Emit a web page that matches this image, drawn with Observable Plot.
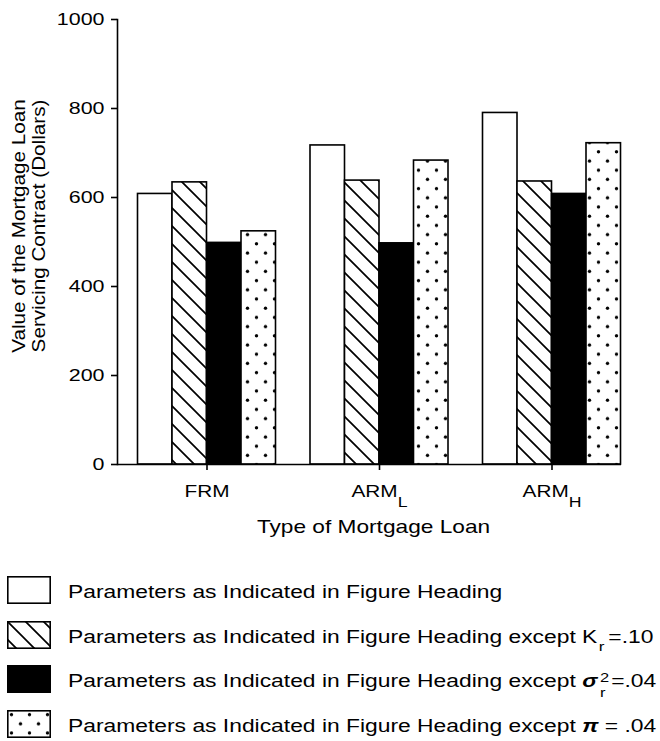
<!DOCTYPE html>
<html><head><meta charset="utf-8">
<script src="https://cdn.jsdelivr.net/npm/d3@7"></script>
<script src="https://cdn.jsdelivr.net/npm/@observablehq/plot@0.6"></script>
<style>
html,body{margin:0;padding:0;background:#fff;width:660px;height:741px;overflow:hidden;}
#wrap{position:relative;width:660px;height:741px;overflow:hidden;font-family:"Liberation Sans",Arial,Helvetica,sans-serif;color:#000;}
#wrap svg.chart{position:absolute;left:0;top:0;}
.lbox{position:absolute;left:7px;}
.ltext{position:absolute;left:68px;font-size:17.5px;line-height:20px;white-space:nowrap;transform:scaleX(1.305);transform-origin:0 0;}
.sub{font-size:0.75em;position:relative;top:8px;margin-left:1px;margin-right:3px;}
.sup2{font-size:0.72em;position:relative;top:-5px;margin-left:2px;}
.sub2{font-size:0.72em;position:relative;top:9.5px;margin-left:-0.556em;margin-right:0.35em;}
</style></head><body><div id="wrap"></div>
<script>
// ---- data ----
const categories = ["FRM", "ARM_L", "ARM_H"];
const categoryBase = ["FRM", "ARM", "ARM"];
const categorySub = ["", "L", "H"];
const asIndicated = [608, 717, 790];   // Parameters as indicated in figure heading
const kr10 = [634, 638, 636];          // except K_r = .10
const sigma04 = [498, 497, 608];       // except sigma_r^2 = .04
const pi04 = [524, 683, 722];          // except pi = .04
const yTicks = [0, 200, 400, 600, 800, 1000];
const yLabelLines = ["Value of the Mortgage Loan", "Servicing Contract (Dollars)"];
const xTitle = "Type of Mortgage Loan";
const legendPrefix = "Parameters as Indicated in Figure Heading";
const legendSuffixes = [
  "",
  " except K<span class=\"sub\">r</span>=.10",
  " except <b><i>σ</i></b><span class=\"sup2\">2</span><span class=\"sub2\">r</span>=.04",
  " except <b><i>π</i></b> = .04"
];

// ---- styles ----
const fills = ["white", "url(#hatch)", "black", "url(#dots)"];
const seriesValues = [asIndicated, kr10, sigma04, pi04];
const rows = seriesValues.map(vals => categories.map((c, i) => ({category: c, value: vals[i]})));

const xRange = [120.25, 637.75];
const step = (xRange[1] - xRange[0]) / categories.length;
const barW = 34.5;
const outer = (step - seriesValues.length * barW) / 2;
const SW = 1.6;

const chart = Plot.plot({
  width: 660,
  height: 560,
  marginLeft: 117,
  marginRight: 39,
  marginTop: 19,
  marginBottom: 96,
  style: {background: "white", color: "black", fontFamily: "'Liberation Sans', Arial, Helvetica, sans-serif", fontSize: "16px", overflow: "visible"},
  x: {type: "band", domain: categories, range: xRange, padding: 0, round: false},
  y: {domain: [0, 1000]},
  marks: [
    ...rows.map((r, k) => Plot.barY(r, {
      x: "category", y: "value", fill: fills[k], stroke: "black", strokeWidth: SW,
      insetLeft: outer + barW * k, insetRight: step - outer - barW * (k + 1)
    })),
    Plot.frame({anchor: "left", strokeWidth: SW}),
    Plot.ruleY([0], {strokeWidth: SW}),
    Plot.axisY(yTicks, {tickSize: 6, tickPadding: 7, fontSize: 16.5, label: null, strokeWidth: SW,
      tickFormat: d => String(d)}),
    Plot.axisX({tickSize: 6, tickPadding: 15, fontSize: 16.5, label: null, strokeWidth: SW,
      tickFormat: d => categoryBase[categories.indexOf(d)]}),
    Plot.text([yLabelLines[0]], {text: d => d, frameAnchor: "left", textAnchor: "middle", lineAnchor: "middle",
      rotate: -90, dx: -98, dy: -16, fontSize: 18}),
    Plot.text([yLabelLines[1]], {text: d => d, frameAnchor: "left", textAnchor: "middle", lineAnchor: "middle",
      rotate: -90, dx: -78, dy: -16, fontSize: 18}),
    Plot.text([xTitle], {text: d => d, frameAnchor: "bottom", textAnchor: "middle", lineAnchor: "middle",
      dx: 4, dy: 63, fontSize: 18})
  ]
});
chart.classList.add("chart");

// patterns
const svgSel = d3.select(chart);
const defs = svgSel.insert("defs", ":first-child");
const hatch = defs.append("pattern").attr("id", "hatch").attr("patternUnits", "userSpaceOnUse")
  .attr("width", 18).attr("height", 18);
hatch.append("rect").attr("width", 18).attr("height", 18).attr("fill", "white");
hatch.append("path").attr("d", "M-2,-2L20,20M-2,16L2,20M16,-2L20,2").attr("stroke", "black").attr("stroke-width", 1.7).attr("fill", "none");
const dots = defs.append("pattern").attr("id", "dots").attr("patternUnits", "userSpaceOnUse")
  .attr("width", 18).attr("height", 18.4);
dots.append("rect").attr("width", 18).attr("height", 18.4).attr("fill", "white");
dots.append("circle").attr("cx", 4.5).attr("cy", 4.6).attr("r", 1.7).attr("fill", "black");
dots.append("circle").attr("cx", 13.5).attr("cy", 13.8).attr("r", 1.7).attr("fill", "black");

// subscripts on category tick labels
chart.querySelectorAll('g[aria-label="x-axis tick label"] text').forEach((t, i) => {
  if (categorySub[i]) {
    const ts = document.createElementNS("http://www.w3.org/2000/svg", "tspan");
    ts.setAttribute("font-size", "0.85em");
    ts.setAttribute("dy", "0.7em");
    ts.textContent = categorySub[i];
    t.appendChild(ts);
  }
});

// horizontal stretch (along the text direction) to match the reference lettering
function stretchText(t, sx) {
  const tr = t.getAttribute("transform") || "";
  t.setAttribute("transform", tr + ` scale(${sx},1)`);
}
chart.querySelectorAll('g[aria-label="y-axis tick label"] text').forEach(t => stretchText(t, 1.3));
chart.querySelectorAll('g[aria-label="x-axis tick label"] text').forEach(t => stretchText(t, 1.26));
chart.querySelectorAll("text").forEach(t => {
  if (t.textContent === xTitle) stretchText(t, 1.26);
  if (yLabelLines.includes(t.textContent)) stretchText(t, 1.15);
});

const wrap = document.getElementById("wrap");
wrap.appendChild(chart);

// legend
const rowStart = 576, rowStep = 44.7;
fills.forEach((f, i) => {
  const top = rowStart + i * rowStep;
  const box = document.createElementNS("http://www.w3.org/2000/svg", "svg");
  box.setAttribute("class", "lbox");
  box.setAttribute("width", 44);
  box.setAttribute("height", 28);
  box.style.top = top + "px";
  const r = document.createElementNS("http://www.w3.org/2000/svg", "rect");
  r.setAttribute("x", 0.8); r.setAttribute("y", 0.8);
  r.setAttribute("width", 42.4); r.setAttribute("height", 26.4);
  r.setAttribute("fill", f); r.setAttribute("stroke", "black"); r.setAttribute("stroke-width", SW);
  box.appendChild(r);
  wrap.appendChild(box);
  const tx = document.createElement("div");
  tx.className = "ltext";
  tx.style.top = (top + 6) + "px";
  tx.innerHTML = legendPrefix + legendSuffixes[i];
  wrap.appendChild(tx);
});
</script>
</body></html>
